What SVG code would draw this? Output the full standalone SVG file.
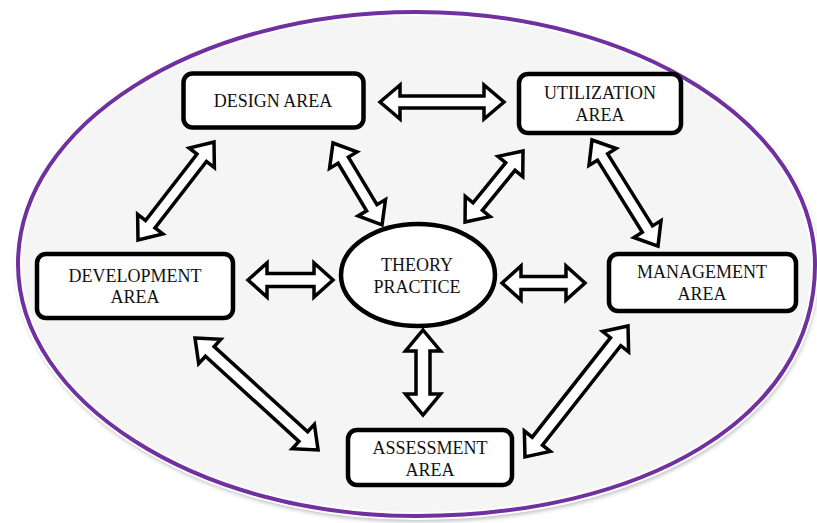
<svg xmlns="http://www.w3.org/2000/svg" width="817" height="523" viewBox="0 0 817 523">
<defs>
<filter id="sh" x="-5%" y="-5%" width="110%" height="110%"><feGaussianBlur stdDeviation="2"/></filter>
<style>
.box{fill:#fff;stroke:#000;stroke-width:4.5}
.arr{fill:#fff;stroke:#000;stroke-width:3.5;stroke-linejoin:miter}
.t{font-family:"Liberation Serif","Times New Roman",serif;font-size:18px;fill:#111;text-anchor:middle}
</style>
</defs>
<rect width="817" height="523" fill="#fff"/>
<g id="frame">
<path d="M416,12 C635,12 815,125 815,265 C815,420 640,516 416,516 C196,516 18,400 18,264 C18,125 196,12 416,12 Z" fill="none" stroke="#b8b8b8" stroke-width="5" transform="translate(1,3)" filter="url(#sh)"/>
<path d="M416,12 C635,12 815,125 815,265 C815,420 640,516 416,516 C196,516 18,400 18,264 C18,125 196,12 416,12 Z" fill="#f5f5f5" stroke="#fff" stroke-width="8"/>
<path d="M416,12 C635,12 815,125 815,265 C815,420 640,516 416,516 C196,516 18,400 18,264 C18,125 196,12 416,12 Z" fill="none" stroke="#7030a0" stroke-width="4"/>
</g>
<g id="connectors">
<path class="arr" transform="translate(380,102)" d="M0,0 L20,-17 L20,-6 L104,-6 L104,-17 L124,0 L104,17 L104,6 L20,6 L20,17 Z"/>
<path class="arr" transform="translate(248,280)" d="M0,0 L19,-17 L19,-6.5 L66,-6.5 L66,-17 L85,0 L66,17 L66,6.5 L19,6.5 L19,17 Z"/>
<path class="arr" transform="translate(502,283)" d="M0,0 L19,-17 L19,-6.5 L64,-6.5 L64,-17 L83,0 L64,17 L64,6.5 L19,6.5 L19,17 Z"/>
<path class="arr" transform="translate(423,330) rotate(90)" d="M0,0 L21,-17.5 L21,-7 L64,-7 L64,-17.5 L85,0 L64,17.5 L64,7 L21,7 L21,17.5 Z"/>
<path class="arr" transform="translate(214,142) rotate(127.8)" d="M0,0 L20,-16 L20,-6 L104,-6 L104,-16 L124,0 L104,16 L104,6 L20,6 L20,16 Z"/>
<path class="arr" transform="translate(333,143) rotate(59.1)" d="M0,0 L20,-16 L20,-6 L75.5,-6 L75.5,-16 L95.5,0 L75.5,16 L75.5,6 L20,6 L20,16 Z"/>
<path class="arr" transform="translate(523,151) rotate(129.2)" d="M0,0 L20,-16 L20,-6 L71.7,-6 L71.7,-16 L91.7,0 L71.7,16 L71.7,6 L20,6 L20,16 Z"/>
<path class="arr" transform="translate(592,140) rotate(58.1)" d="M0,0 L20,-16 L20,-6 L104.9,-6 L104.9,-16 L124.9,0 L104.9,16 L104.9,6 L20,6 L20,16 Z"/>
<path class="arr" transform="translate(195,338) rotate(42.3)" d="M0,0 L20,-16.5 L20,-6.5 L146.4,-6.5 L146.4,-16.5 L166.4,0 L146.4,16.5 L146.4,6.5 L20,6.5 L20,16.5 Z"/>
<path class="arr" transform="translate(628,326) rotate(128.2)" d="M0,0 L20,-16.5 L20,-6.5 L146.6,-6.5 L146.6,-16.5 L166.6,0 L146.6,16.5 L146.6,6.5 L20,6.5 L20,16.5 Z"/>
</g>
<g id="design">
<rect class="box" x="183.5" y="73.5" width="180" height="54" rx="9"/>
<text class="t" x="273" y="107">DESIGN AREA</text>
</g>
<g id="utilization">
<rect class="box" x="519" y="74" width="162" height="59" rx="9"/>
<text class="t" x="600" y="99">UTILIZATION</text>
<text class="t" x="600" y="121">AREA</text>
</g>
<g id="development">
<rect class="box" x="37" y="254" width="196" height="64" rx="9"/>
<text class="t" x="135" y="282">DEVELOPMENT</text>
<text class="t" x="135" y="303">AREA</text>
</g>
<g id="management">
<rect class="box" x="609" y="254" width="187" height="57" rx="9"/>
<text class="t" x="702" y="278">MANAGEMENT</text>
<text class="t" x="702" y="300">AREA</text>
</g>
<g id="assessment">
<rect class="box" x="348" y="430" width="164" height="55" rx="9"/>
<text class="t" x="430" y="454">ASSESSMENT</text>
<text class="t" x="430" y="476">AREA</text>
</g>
<g id="theory">
<ellipse class="box" cx="418" cy="275" rx="77" ry="51" stroke-width="5"/>
<text class="t" x="417" y="271">THEORY</text>
<text class="t" x="417" y="293">PRACTICE</text>
</g>
</svg>
